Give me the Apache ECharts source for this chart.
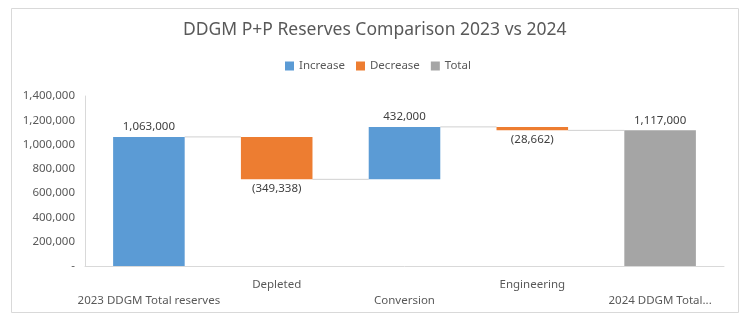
<!DOCTYPE html>
<html>
<head>
<meta charset="utf-8">
<script src="https://cdn.jsdelivr.net/npm/echarts@6/dist/echarts.min.js"></script>
<style>
  html, body { margin: 0; padding: 0; background: #ffffff; }
  #chart { width: 741px; height: 323px; }
</style>
</head>
<body>
<div id="chart"></div>
<script>
// Reserve movements, 2023 to 2024
const categories = ['2023 DDGM Total reserves', 'Depleted', 'Conversion', 'Engineering', '2024 DDGM Total reserves'];
const tickLabels = ['2023 DDGM Total reserves', 'Depleted', 'Conversion', 'Engineering', '2024 DDGM Total...'];
const increase = [1063000, null, 432000, null, null];
const decrease = [null, 349338, null, 28662, null];
const total = [null, null, null, null, 1117000];
const yTicks = [0, 200000, 400000, 600000, 800000, 1000000, 1200000, 1400000];

const fmt = v => Number(v).toLocaleString('en-US');

// Invisible base under each floating bar, and running level after each step
const base = [];
const levels = [];
let running = 0;
for (let i = 0; i < categories.length; i++) {
  if (total[i] != null) {
    base.push(0);
    running = total[i];
  } else if (increase[i] != null) {
    base.push(running);
    running += increase[i];
  } else {
    running -= decrease[i];
    base.push(running);
  }
  levels.push(running);
}
const connectors = levels.slice(0, -1).map((v, i) => [i, v]);

const BAR_RATIO = 0.56;
const textColor = '#595959';
const font = 'Noto Sans';

const chart = echarts.init(document.getElementById('chart'));
chart.setOption({
  animation: false,
  backgroundColor: '#ffffff',
  textStyle: { fontFamily: font },
  title: {
    text: 'DDGM P+P Reserves Comparison 2023 vs 2024',
    left: 178,
    top: 16,
    textStyle: { fontFamily: font, fontSize: 17.5, fontWeight: 'normal', color: textColor }
  },
  legend: {
    data: ['Increase', 'Decrease', 'Total'],
    top: 55,
    left: 280,
    itemWidth: 9,
    itemHeight: 9,
    itemGap: 11,
    icon: 'rect',
    textStyle: { fontFamily: font, fontSize: 11.5, color: textColor }
  },
  graphic: [{
    type: 'rect',
    shape: { x: 11.5, y: 8.5, width: 727, height: 304 },
    style: { fill: 'none', stroke: '#d9d9d9', lineWidth: 1 },
    silent: true
  }],
  grid: { left: 85, right: 17, top: 96, bottom: 57, containLabel: false },
  xAxis: {
    type: 'category',
    data: categories,
    axisLine: { lineStyle: { color: '#d9d9d9' } },
    axisTick: { show: false },
    axisLabel: {
      interval: 0,
      margin: 11,
      color: textColor,
      fontFamily: font,
      fontSize: 11.5,
      lineHeight: 16,
      formatter: (v, i) => (i % 2 === 0 ? '\n' : '') + tickLabels[i]
    },
    splitLine: { show: false }
  },
  yAxis: {
    type: 'value',
    min: yTicks[0],
    max: yTicks[yTicks.length - 1],
    interval: yTicks[1] - yTicks[0],
    axisLine: { show: true, lineStyle: { color: '#d9d9d9' } },
    axisTick: { show: false },
    splitLine: { show: false },
    axisLabel: {
      margin: 10,
      color: textColor,
      fontFamily: font,
      fontSize: 11.5,
      formatter: v => (v === 0 ? '-' : fmt(v))
    }
  },
  series: [
    {
      name: 'base',
      type: 'bar',
      stack: 'wf',
      barCategoryGap: ((1 - BAR_RATIO) * 100) + '%',
      itemStyle: { color: 'transparent' },
      emphasis: { disabled: true },
      silent: true,
      data: base
    },
    {
      name: 'Increase',
      type: 'bar',
      stack: 'wf',
      itemStyle: { color: '#5b9bd5' },
      label: {
        show: true, position: 'top', distance: 4,
        color: '#404040', fontFamily: font, fontSize: 11.5,
        formatter: p => fmt(p.value)
      },
      data: increase.map(v => (v == null ? '-' : v))
    },
    {
      name: 'Decrease',
      type: 'bar',
      stack: 'wf',
      itemStyle: { color: '#ed7d31' },
      label: {
        show: true, position: 'bottom', distance: 3,
        color: '#404040', fontFamily: font, fontSize: 11.5,
        formatter: p => '(' + fmt(p.value) + ')'
      },
      data: decrease.map(v => (v == null ? '-' : v))
    },
    {
      name: 'Total',
      type: 'bar',
      stack: 'wf',
      itemStyle: { color: '#a5a5a5' },
      label: {
        show: true, position: 'top', distance: 4,
        color: '#404040', fontFamily: font, fontSize: 11.5,
        formatter: p => fmt(p.value)
      },
      data: total.map(v => (v == null ? '-' : v))
    },
    {
      // connector lines between neighbouring bars at the running level
      name: 'connector',
      type: 'custom',
      silent: true,
      z: 1,
      renderItem: (params, api) => {
        const pt = api.coord([api.value(0), api.value(1)]);
        const band = api.size([1, 0])[0];
        const half = band * BAR_RATIO / 2;
        return {
          type: 'line',
          shape: { x1: pt[0] + half, y1: pt[1], x2: pt[0] + band - half, y2: pt[1] },
          style: { stroke: '#d0d0d0', lineWidth: 1 }
        };
      },
      data: connectors
    }
  ]
});
</script>
</body>
</html>
